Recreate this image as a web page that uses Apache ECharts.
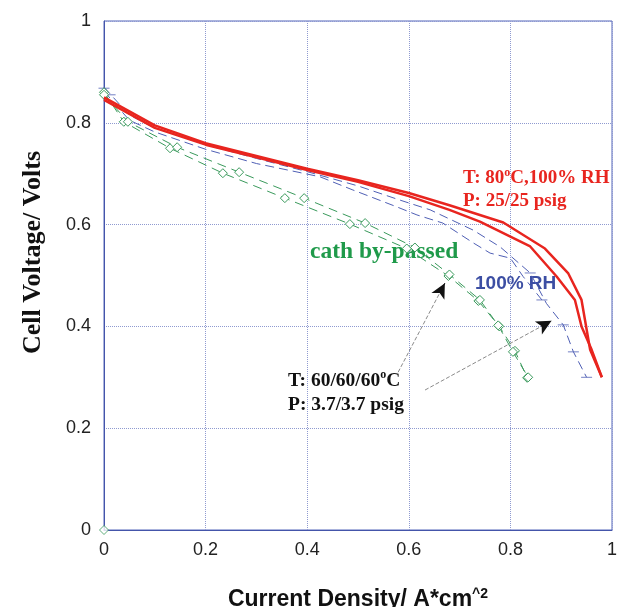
<!DOCTYPE html>
<html>
<head>
<meta charset="utf-8">
<script src="https://cdn.jsdelivr.net/npm/echarts@6/dist/echarts.min.js"></script>
<style>
  html, body { margin: 0; padding: 0; background: #fff; }
  #main { width: 618px; height: 607px; }
</style>
</head>
<body>
<div id="main"></div>
<script>
// axis ticks
var xTicks = [0, 0.2, 0.4, 0.6, 0.8, 1];
var yTicks = [0, 0.2, 0.4, 0.6, 0.8, 1];

// T: 80C, 100% RH, 25/25 psig  (two red runs)
var redA = [[0,0.85],[0.1,0.795],[0.2,0.76],[0.3,0.735],[0.4,0.71],[0.5,0.687],[0.6,0.662],[0.68,0.638],[0.786,0.604],[0.868,0.553],[0.914,0.504],[0.94,0.452],[0.957,0.354],[0.98,0.30]];
var redB = [[0,0.845],[0.1,0.79],[0.2,0.757],[0.3,0.732],[0.4,0.707],[0.5,0.684],[0.6,0.656],[0.68,0.629],[0.74,0.606],[0.839,0.557],[0.891,0.498],[0.927,0.452],[0.94,0.40],[0.96,0.354],[0.98,0.30]];

// 100% RH (blue runs)
var blueA = [[0,0.87],[0.05,0.815],[0.1,0.79],[0.2,0.757],[0.3,0.73],[0.4,0.704],[0.5,0.676],[0.583,0.648],[0.642,0.629],[0.727,0.589],[0.78,0.556],[0.839,0.505],[0.871,0.445],[0.904,0.403],[0.924,0.35],[0.95,0.30]];
var blueB = [[0,0.862],[0.05,0.805],[0.1,0.782],[0.2,0.748],[0.3,0.72],[0.425,0.694],[0.49,0.668],[0.524,0.655],[0.576,0.635],[0.616,0.619],[0.667,0.603],[0.727,0.564],[0.76,0.544],[0.80,0.534],[0.825,0.498],[0.862,0.452]];
var blueMarks = [[0,0.868],[0.012,0.855],[0.839,0.505],[0.862,0.452],[0.904,0.403],[0.924,0.35],[0.95,0.30]];

// cath by-passed (green runs)
var greenA = [[0,0.86],[0.039,0.802],[0.13,0.75],[0.234,0.701],[0.356,0.652],[0.484,0.601],[0.596,0.553],[0.678,0.499],[0.737,0.45],[0.778,0.40],[0.809,0.352],[0.833,0.299]];
var greenB = [[0,0.855],[0.047,0.802],[0.144,0.752],[0.266,0.703],[0.394,0.652],[0.514,0.603],[0.612,0.555],[0.68,0.502],[0.74,0.452],[0.776,0.402],[0.805,0.35],[0.835,0.30]];
var greenOrigin = [[0,0]];

// annotation arrows: [start, tip]
var arrowGreen = [[0.579,0.31],[0.671,0.485]];
var arrowBlue = [[0.632,0.275],[0.881,0.411]];

var RED = '#e8251f', BLUE = '#4f5fb5', GREEN = '#3a9a5c';

function line(name, data, color, width, dash, extra) {
  var s = {
    name: name, type: 'line', data: data, showSymbol: false, symbol: 'none',
    lineStyle: { color: color, width: width, type: dash },
    silent: true, z: 3
  };
  for (var k in extra) s[k] = extra[k];
  return s;
}

// grey shaft + short black piece carrying the arrow head
function arrow(a) {
  var s = a[0], t = a[1];
  var near = [t[0] - (t[0] - s[0]) * 0.08, t[1] - (t[1] - s[1]) * 0.08];
  return [
    [{ coord: s, symbol: 'none', lineStyle: { color: '#8a8a8a', width: 1 } }, { coord: t, symbol: 'none' }],
    [{ coord: near, symbol: 'none', lineStyle: { color: '#111', width: 1 } }, { coord: t, symbol: 'arrow' }]
  ];
}

var chart = echarts.init(document.getElementById('main'));
var option = {
  backgroundColor: '#ffffff',
  animation: false,
  grid: { left: 104, right: 6, top: 21, bottom: 77, show: true, borderColor: '#5566bb', borderWidth: 1,
    outerBoundsMode: 'none', containLabel: false },
  xAxis: {
    type: 'value', min: 0, max: 1, interval: 0.2,
    name: '{a|Current Density/ A*cm}{s|^2}', nameLocation: 'middle', nameGap: 57,
    nameTextStyle: { rich: {
      a: { fontFamily: 'Liberation Sans', fontWeight: 'bold', fontSize: 23, color: '#111' },
      s: { fontFamily: 'Liberation Sans', fontWeight: 'bold', fontSize: 14, color: '#111', verticalAlign: 'top', padding: [0,0,12,0] }
    } },
    axisLine: { show: true, lineStyle: { color: '#4455aa', width: 1 } },
    axisTick: { show: false },
    axisLabel: { margin: 11, fontFamily: 'Liberation Sans', fontSize: 18, color: '#222',
      formatter: function (v) { return xTicks.indexOf(v) >= 0 ? String(v) : ''; } },
    splitLine: { show: true, lineStyle: { color: '#8f9ad0', type: 'dotted', width: 1 } }
  },
  yAxis: {
    type: 'value', min: 0, max: 1, interval: 0.2,
    name: 'Cell Voltage/ Volts', nameLocation: 'middle', nameGap: 58, nameRotate: 90,
    nameTextStyle: { fontFamily: 'Liberation Serif', fontWeight: 'bold', fontSize: 26, color: '#111',
      padding: [0, 0, 0, 46] },
    axisLine: { show: true, lineStyle: { color: '#4455aa', width: 1 } },
    axisTick: { show: false },
    axisLabel: { margin: 13, fontFamily: 'Liberation Sans', fontSize: 18, color: '#222',
      formatter: function (v) { return yTicks.indexOf(v) >= 0 ? String(v) : ''; } },
    splitLine: { show: true, lineStyle: { color: '#8f9ad0', type: 'dotted', width: 1 } }
  },
  series: [
    line('100% RH a', blueA, BLUE, 1, [9, 5]),
    line('100% RH b', blueB, BLUE, 1, [9, 5]),
    { name: 'blue marks', type: 'scatter', data: blueMarks, symbol: 'rect', symbolSize: [11, 1],
      itemStyle: { color: BLUE }, silent: true, z: 3 },
    line('cath a', greenA, GREEN, 1, [9, 6], { showSymbol: true, symbol: 'diamond', symbolSize: 9,
      itemStyle: { color: '#fff', borderColor: GREEN, borderWidth: 1 } }),
    line('cath b', greenB, GREEN, 1, [9, 6], { showSymbol: true, symbol: 'diamond', symbolSize: 9,
      itemStyle: { color: '#fff', borderColor: GREEN, borderWidth: 1 } }),
    { name: 'origin', type: 'scatter', data: greenOrigin, symbol: 'diamond', symbolSize: 9,
      itemStyle: { color: '#fff', borderColor: GREEN, borderWidth: 1 }, silent: true, z: 4 },
    line('80C a', redA, RED, 2.5, 'solid', { z: 5 }),
    line('80C b', redB, RED, 2.5, 'solid', { z: 5,
      markLine: {
        silent: true, symbolSize: [11, 15],
        label: { show: false },
        emphasis: { disabled: true },
        data: arrow(arrowGreen).concat(arrow(arrowBlue))
      } })
  ],
  graphic: [
    { type: 'text', left: 463, top: 167, style: {
      text: '{t|T: 80}{s|o}{t|C,100% RH}\n{t|P: 25/25 psig}',
      rich: {
        t: { fontFamily: 'Liberation Serif', fontWeight: 'bold', fontSize: 19, fill: RED, lineHeight: 23 },
        s: { fontFamily: 'Liberation Serif', fontWeight: 'bold', fontSize: 12, fill: RED, verticalAlign: 'top', lineHeight: 23, padding: [0,0,9,0] }
      } } },
    { type: 'text', left: 310, top: 240, style: {
      text: 'cath by-passed', fontFamily: 'Liberation Serif', fontWeight: 'bold', fontSize: 23.5, fill: '#1f9a4a' } },
    { type: 'text', left: 475, top: 274, style: {
      text: '100% RH', fontFamily: 'Liberation Sans', fontWeight: 'bold', fontSize: 19, fill: '#3c4ea3' } },
    { type: 'text', left: 288, top: 369, style: {
      text: '{t|T: 60/60/60}{s|o}{t|C}\n{t|P: 3.7/3.7 psig}',
      rich: {
        t: { fontFamily: 'Liberation Serif', fontWeight: 'bold', fontSize: 19.5, fill: '#111', lineHeight: 24 },
        s: { fontFamily: 'Liberation Serif', fontWeight: 'bold', fontSize: 12, fill: '#111', verticalAlign: 'top', lineHeight: 24, padding: [0,0,9,0] }
      } } }
  ]
};
chart.setOption(option);
</script>
</body>
</html>
